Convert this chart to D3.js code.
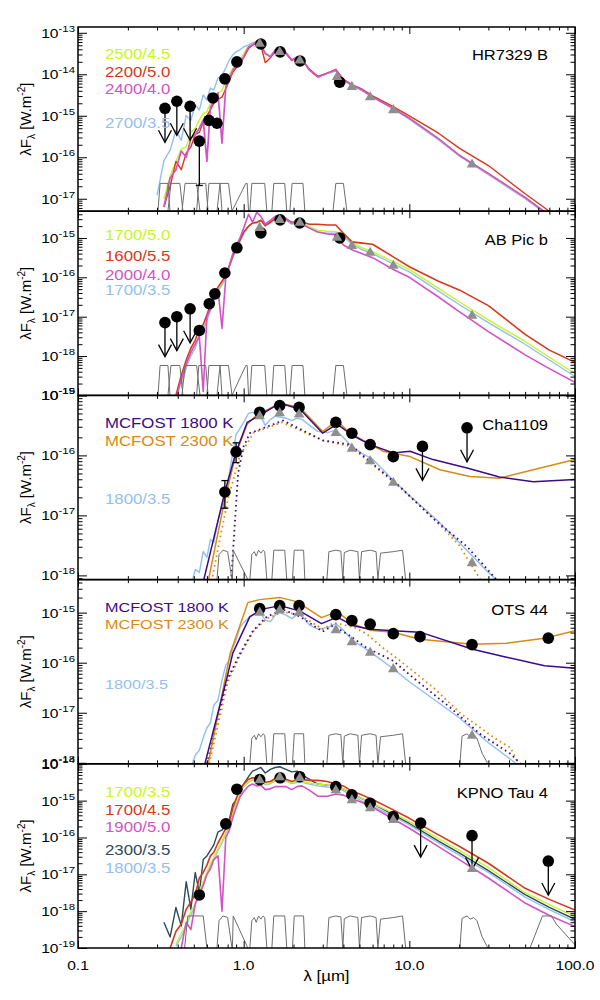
<!DOCTYPE html>
<html>
<head>
<meta charset="utf-8">
<script src="https://cdn.jsdelivr.net/npm/d3@7"></script>
<style>
  body { margin: 0; background: #fff; }
  svg { font-family: "Liberation Sans", Arial, Helvetica, sans-serif; }
</style>
</head>
<body>
<svg id="chart" width="600" height="1000"></svg>
<script>
// ---- data (wavelengths in micron, fluxes as log10 of lambda*F_lambda in W/m2) ----

// common wavelength grid of the atmosphere model spectra
const modelWave = [0.30,0.33,0.36,0.39,0.42,0.45,0.48,0.51,0.54,0.57,
  0.60,0.63,0.66,0.70,0.74,0.78,0.82,0.86,0.90,0.95,
  1.0,1.07,1.13,1.2,1.27,1.35,1.45,1.55,1.65,1.8,
  1.95,2.1,2.25,2.5,2.8,3.2,3.6,4.0,4.5,5.2,
  6,8,10,15,20,30,50,70,100];

// HR7329 B
const hr2700 = [-16.92,-16.08,-15.83,-15.35,-15.59,-14.99,-15.11,-14.74,-14.86,-14.50,
  -14.62,-14.33,-14.38,-14.09,-14.02,-13.85,-13.65,-13.53,-13.46,-13.41,
  -13.34,-13.29,-13.24,-13.22,-13.30,-13.48,-13.56,-13.42,-13.38,-13.48,
  -13.64,-13.60,-13.66,-13.90,-14.06,-13.98,-13.92,-14.14,-14.27,-14.40,
  -14.55,-14.84,-15.08,-15.58,-15.97,-16.42,-17.00,-17.42,-17.88];
const hr2500 = [null,-17.00,-16.45,-16.10,-15.80,-15.75,-15.40,-15.30,-15.10,-14.95,
  -14.90,-14.70,-14.55,-14.45,-14.40,-14.15,-14.00,-13.85,-13.75,-13.65,
  -13.50,-13.33,-13.28,-13.22,-13.28,-13.50,-13.57,-13.42,-13.37,-13.48,
  -13.65,-13.59,-13.65,-13.90,-14.06,-13.97,-13.90,-14.13,-14.26,-14.38,
  -14.54,-14.82,-15.05,-15.56,-15.95,-16.40,-16.98,-17.40,-17.86];
const hr2200 = [null,-17.20,-16.70,-16.10,-16.30,-15.90,-15.75,-15.45,-15.40,-15.15,
  -15.00,-14.85,-14.70,-14.60,-14.55,-14.35,-14.15,-13.95,-13.85,-13.75,
  -13.60,-13.38,-13.30,-13.25,-13.30,-13.72,-13.60,-13.45,-13.40,-13.50,
  -13.67,-13.60,-13.65,-13.88,-14.05,-13.97,-13.88,-14.12,-14.25,-14.36,
  -14.52,-14.78,-15.00,-15.42,-15.78,-16.20,-16.88,-17.30,-17.75];
const hr2400 = [null,-17.20,-16.50,-16.30,-15.85,-16.00,-15.55,-15.45,-15.30,-15.10,
  -16.10,-14.80,-14.65,-14.45,-15.66,-14.30,-14.10,-13.90,-13.78,-13.72,
  -13.58,-13.34,-13.29,-13.20,-13.28,-13.50,-13.58,-13.42,-13.36,-13.48,
  -13.66,-13.58,-13.65,-13.90,-14.07,-13.97,-13.90,-14.14,-14.26,-14.38,
  -14.55,-14.82,-15.06,-15.55,-15.95,-16.39,-16.97,-17.40,-17.85];
const hrPhotWave = [0.335, 0.395, 0.475, 0.54, 0.617, 0.653, 0.69, 0.77, 0.91, 1.27, 1.66, 2.19, 3.8];
const hrPhotLogF = [-14.82, -14.65, -14.77, -15.61, -15.11, -14.57, -15.18, -14.11, -13.70, -13.27, -13.46, -13.68, -14.19];
const hrPhotUpper = [1, 1, 1, 0, 0, 0, 0, 0, 0, 0, 0, 0, 0];
const hrErrLo = [null, null, null, -16.68, null, null, null, null, null, null, null, null, null];
const hrSynthWave = [1.25, 1.65, 2.18, 3.66, 4.5, 5.8, 8.0, 23.9];
const hrSynthLogF = [-13.24, -13.44, -13.64, -14.04, -14.28, -14.53, -14.84, -16.15];

// AB Pic b
const ab2000 = [null,null,null,-19.10,-18.60,-18.20,-17.90,-17.70,-17.50,-18.90,
  -17.00,-16.80,-16.50,-16.30,-17.30,-16.00,-15.70,-15.40,-15.20,-15.00,
  -14.75,-14.40,-14.60,-14.35,-14.45,-14.65,-14.55,-14.45,-14.42,-14.50,
  -14.62,-14.60,-14.65,-14.75,-14.85,-14.90,-14.92,-15.18,-15.30,-15.40,
  -15.50,-15.80,-16.00,-16.50,-16.87,-17.38,-17.97,-18.32,-18.67];
const ab1600 = [null,null,null,-19.00,-18.50,-18.10,-17.80,-17.60,-17.30,-17.20,
  -16.95,-16.70,-16.45,-16.25,-16.10,-15.95,-15.70,-15.45,-15.25,-15.05,
  -14.85,-14.70,-14.62,-14.60,-14.55,-14.68,-14.60,-14.50,-14.48,-14.52,
  -14.60,-14.58,-14.60,-14.65,-14.65,-14.67,-14.67,-14.88,-15.10,-15.13,
  -15.16,-15.48,-15.73,-16.10,-16.32,-16.72,-17.45,-17.85,-18.16];
const ab1700g35 = [null,null,null,null,-18.80,-18.30,-18.00,-17.80,-17.50,-17.35,
  -17.10,-16.85,-16.60,-16.35,-16.20,-16.00,-15.75,-15.50,-15.30,-15.10,
  -14.90,-14.70,-14.62,-14.62,-14.55,-14.70,-14.62,-14.52,-14.50,-14.55,
  -14.65,-14.62,-14.65,-14.75,-14.85,-14.88,-14.88,-14.97,-15.15,-15.30,
  -15.40,-15.66,-15.86,-16.35,-16.69,-17.15,-17.70,-18.10,-18.52];
const ab1700g50 = [null,null,null,null,-18.70,-18.30,-17.95,-17.75,-17.45,-17.30,
  -17.05,-16.80,-16.55,-16.30,-16.15,-15.95,-15.70,-15.45,-15.28,-15.08,
  -14.88,-14.70,-14.63,-14.62,-14.56,-14.70,-14.62,-14.52,-14.50,-14.55,
  -14.63,-14.61,-14.63,-14.72,-14.80,-14.83,-14.84,-14.93,-15.10,-15.25,
  -15.35,-15.60,-15.80,-16.28,-16.62,-17.08,-17.63,-18.03,-18.45];
const abPhotWave = [0.335, 0.395, 0.475, 0.54, 0.62, 0.67, 0.77, 0.91, 1.27, 1.66, 2.18, 3.8];
const abPhotLogF = [-17.15, -17.00, -16.80, -17.35, -16.67, -16.42, -15.89, -15.25, -14.87, -14.54, -14.62, -15.00];
const abPhotUpper = [1, 1, 1, 0, 0, 0, 0, 0, 0, 0, 0, 0];
const abSynthWave = [1.25, 1.65, 2.18, 3.66, 4.5, 5.8, 8.0, 23.9];
const abSynthLogF = [-14.72, -14.52, -14.59, -14.97, -15.18, -15.35, -15.68, -16.95];

// Cha1109
const chaMcf1800Wave = [0.56, 0.77, 0.90, 1.05, 1.20, 1.66, 2.19, 3.0, 3.66, 4.5, 5.8, 8.0, 10.1, 13.9, 22.3, 35, 56, 100];
const chaMcf1800 = [-18.2, -16.61, -15.94, -15.45, -15.36, -15.13, -15.23, -15.63, -15.48, -15.66, -15.82, -15.96, -15.93, -16.07, -16.21, -16.36, -16.44, -16.40];
const chaMcf2300Wave = [0.60, 0.77, 0.90, 1.05, 1.20, 1.66, 2.19, 3.0, 3.66, 4.38, 6.93, 10.1, 15.3, 23.2, 35, 56, 100];
const chaMcf2300 = [-18.2, -16.73, -15.97, -15.48, -15.33, -15.13, -15.20, -15.60, -15.42, -15.63, -15.93, -16.02, -16.24, -16.35, -16.38, -16.24, -16.07];
const chaPhoto1800Wave = [0.84, 0.925, 1.0, 1.09, 1.73, 3.01, 4.38, 8.77, 13.9, 22.3, 33.8];
const chaPhoto1800 = [-18.1, -16.3, -15.85, -15.63, -15.42, -15.75, -15.82, -16.52, -17.05, -17.52, -18.08];
const chaPhoto2300Wave = [0.64, 0.8, 0.95, 1.15, 1.7, 3.0, 4.4, 8.5, 14, 20, 27];
const chaPhoto2300 = [-18.1, -16.75, -16.0, -15.62, -15.45, -15.75, -15.85, -16.5, -17.05, -17.5, -18.08];
const cha1800g35 = [null,null,null,null,null,null,-18.20,-17.90,-17.95,-17.60,
  -17.70,-17.40,-17.45,-17.10,-16.85,-16.60,-16.30,-15.95,-15.65,-15.55,
  -15.45,-15.30,-15.28,-15.33,-15.35,-15.50,-15.40,-15.35,-15.36,-15.38,
  -15.42,-15.38,-15.40,-15.50,-15.60,-15.62,-15.58,-15.70,-15.85,-15.97,
  -16.06,-16.42,-16.67,-17.10,-17.45,-17.95,-18.50,-18.80,-19.20];
const chaPhotWave = [0.77, 0.90, 1.25, 1.65, 2.16, 3.6, 4.5, 5.8, 8.0, 12.0, 22.3];
const chaPhotLogF = [-16.61, -15.94, -15.28, -15.17, -15.20, -15.45, -15.63, -15.82, -16.02, -15.85, -15.54];
const chaPhotUpper = [0, 0, 0, 0, 0, 0, 0, 0, 0, 1, 1];
const chaErrLo = [-16.88, -16.12, null, null, null, null, null, null, null, null, null];
const chaErrHi = [-16.42, -15.79, null, null, null, null, null, null, null, null, null];
const chaSynthWave = [1.25, 1.65, 2.16, 3.6, 4.5, 5.8, 8.0, 23.9];
const chaSynthLogF = [-15.33, -15.28, -15.30, -15.61, -15.87, -16.08, -16.44, -17.78];

// OTS 44
const otsMcf1800Wave = [0.57, 0.79, 0.86, 1.09, 1.30, 1.66, 2.19, 2.95, 3.66, 4.6, 5.78, 7.96, 11.6, 24.1, 38.6, 65.5, 100];
const otsMcf1800 = [-18.15, -16.32, -15.81, -15.08, -14.93, -14.86, -14.97, -15.22, -15.09, -15.26, -15.33, -15.36, -15.39, -15.73, -15.89, -16.06, -16.11];
const otsMcf2300Wave = [0.60, 0.83, 1.06, 1.25, 1.66, 2.09, 2.95, 3.66, 4.6, 5.78, 7.96, 11.6, 24.1, 38.6, 65.5, 100];
const otsMcf2300 = [-18.15, -15.81, -14.80, -14.74, -14.70, -14.78, -15.10, -14.98, -15.23, -15.35, -15.39, -15.53, -15.63, -15.61, -15.51, -15.36];
const otsPhoto1800Wave = [0.60, 0.79, 0.95, 1.14, 1.38, 1.73, 2.19, 3.0, 3.45, 4.38, 5.5, 7.96, 11.1, 17.7, 26.6, 40.8, 48];
const otsPhoto1800 = [-18.02, -16.36, -15.82, -15.36, -15.08, -14.94, -15.08, -15.38, -15.26, -15.46, -15.70, -15.96, -16.36, -16.90, -17.42, -17.82, -18.05];
const otsPhoto2300Wave = [0.62, 0.8, 0.95, 1.14, 1.38, 1.73, 2.19, 3.0, 3.5, 4.6, 5.5, 6.9, 8.8, 14, 20.5, 32.5, 40.8, 46];
const otsPhoto2300 = [-18.02, -16.4, -15.85, -15.38, -15.12, -14.98, -15.05, -15.33, -15.2, -15.29, -15.42, -15.7, -15.96, -16.5, -17.02, -17.5, -17.7, -18.05];
const ots1800g35 = [null,null,null,null,null,null,-18.10,-17.85,-17.75,-17.50,
  -17.30,-17.20,-16.85,-16.75,-16.35,-16.05,-15.95,-15.70,-15.55,-15.30,
  -15.20,-15.10,-15.05,-15.00,-15.02,-15.15,-15.18,-15.05,-15.00,-15.05,
  -15.12,-15.04,-15.06,-15.25,-15.33,-15.30,-15.22,-15.35,-15.55,-15.68,
  -15.82,-16.12,-16.38,-16.80,-17.10,-17.60,-18.15,-18.50,-18.90];
const otsPhotWave = [1.25, 1.65, 2.16, 3.6, 4.5, 5.8, 8.0, 11.6, 23.9, 69];
const otsPhotLogF = [-14.92, -14.86, -14.86, -15.04, -15.16, -15.23, -15.42, -15.48, -15.64, -15.51];
const otsSynthWave = [1.25, 1.65, 2.16, 3.6, 4.5, 5.8, 8.0, 23.9];
const otsSynthLogF = [-14.98, -14.93, -14.98, -15.33, -15.57, -15.78, -16.11, -17.44];

// KPNO Tau 4
const kp2300 = [null,-18.30,-18.70,-17.90,-18.40,-17.20,-17.95,-16.95,-17.50,-16.60,
  -16.50,-16.35,-16.20,-15.85,-15.80,-15.60,-15.50,-15.10,-15.00,-14.80,
  -14.55,-14.35,-14.20,-14.15,-14.10,-14.25,-14.15,-14.10,-14.08,-14.15,
  -14.22,-14.20,-14.30,-14.42,-14.55,-14.58,-14.60,-14.68,-14.80,-14.95,
  -15.08,-15.38,-15.62,-16.10,-16.42,-16.90,-17.55,-17.90,-18.22];
const kp1800 = [null,null,null,-18.95,-18.70,-18.40,-18.10,-17.85,-17.50,-17.25,
  -17.00,-16.75,-16.60,-16.35,-16.15,-15.90,-15.70,-15.35,-15.10,-14.80,
  -14.62,-14.50,-14.45,-14.47,-14.44,-14.57,-14.54,-14.47,-14.44,-14.47,
  -14.54,-14.50,-14.50,-14.55,-14.60,-14.63,-14.65,-14.73,-14.86,-15.02,
  -15.15,-15.43,-15.66,-16.15,-16.48,-16.95,-17.62,-17.96,-18.29];
const kp1700g35 = [null,null,null,-18.90,-18.60,-18.35,-18.00,-17.80,-17.45,-17.20,
  -16.95,-16.70,-16.55,-16.30,-16.10,-15.85,-15.65,-15.30,-15.05,-14.75,
  -14.60,-14.48,-14.43,-14.45,-14.42,-14.55,-14.52,-14.45,-14.42,-14.45,
  -14.52,-14.47,-14.48,-14.52,-14.55,-14.58,-14.60,-14.68,-14.80,-14.95,
  -15.08,-15.34,-15.57,-16.03,-16.35,-16.82,-17.50,-17.82,-18.15];
const kp1700g45 = [null,null,-19.00,-18.55,-18.35,-17.95,-17.75,-17.55,-17.10,-16.95,
  -16.75,-16.50,-16.40,-16.15,-15.95,-15.75,-15.55,-15.20,-14.95,-14.70,
  -14.55,-14.42,-14.38,-14.40,-14.38,-14.50,-14.48,-14.40,-14.38,-14.42,
  -14.48,-14.43,-14.43,-14.45,-14.45,-14.48,-14.55,-14.60,-14.74,-14.85,
  -14.97,-15.25,-15.48,-15.93,-16.24,-16.70,-17.38,-17.68,-17.97];
const kp1900 = [null,null,null,null,-19.00,-18.30,-18.50,-17.80,-17.55,-17.30,
  -17.00,-16.85,-16.60,-16.50,-18.00,-16.00,-15.80,-15.45,-15.20,-14.90,
  -14.75,-14.60,-14.55,-14.60,-14.58,-14.70,-14.68,-14.62,-14.62,-14.62,
  -14.70,-14.62,-14.60,-14.72,-14.88,-14.88,-14.82,-14.85,-14.95,-15.05,
  -15.18,-15.50,-15.75,-16.25,-16.60,-17.10,-17.78,-18.12,-18.42];
const kpPhotWave = [0.54, 0.78, 0.91, 1.25, 1.66, 2.18, 3.6, 4.5, 5.8, 8.0, 11.7, 23.9, 69];
const kpPhotLogF = [-17.56, -15.63, -14.69, -14.43, -14.38, -14.35, -14.62, -14.84, -15.07, -15.43, -15.61, -15.95, -16.64];
const kpPhotUpper = [0, 0, 0, 0, 0, 0, 0, 0, 0, 0, 1, 1, 1];
const kpSynthWave = [1.25, 1.65, 2.18, 3.6, 4.5, 5.8, 8.0, 23.9];
const kpSynthLogF = [-14.42, -14.34, -14.36, -14.69, -14.96, -15.18, -15.50, -16.83];

// filter transmission curves: [wavelength, relative transmission]
const fltF336 = [[0.304,0],[0.313,1],[0.349,1],[0.359,0]];
const fltF390 = [[0.349,0],[0.364,1],[0.412,1],[0.43,0]];
const fltF475 = [[0.424,0],[0.443,1],[0.52,1],[0.545,0]];
const fltF555 = [[0.52,0],[0.536,1],[0.59,1],[0.61,0]];
const fltF658 = [[0.60,0],[0.617,1],[0.72,1],[0.74,0]];
const fltF775 = [[0.69,0],[0.72,1],[0.81,1],[0.85,0]];
const fltF850 = [[0.85,0],[1.03,1],[1.05,1],[1.07,0]];
const fltV = [[0.44,0],[0.46,1],[0.57,1],[0.60,0]];
const fltI = [[0.69,0],[0.71,0.85],[0.75,1],[0.8,0.95],[0.85,0]];
const fltZ = [[0.855,0],[0.865,1],[1.06,0]];
const fltJ = [[1.09,0],[1.12,1],[1.34,1],[1.38,0]];
const fltJn = [[1.09,0],[1.12,0.85],[1.16,0.95],[1.19,0.8],[1.23,1],[1.27,0.9],[1.31,1],[1.34,0.95],[1.38,0]];
const fltH = [[1.48,0],[1.52,1],[1.77,1],[1.82,0]];
const fltK = [[1.9,0],[1.96,1],[2.28,1],[2.34,0]];
const fltKs = [[1.97,0],[2.02,1],[2.3,1],[2.34,0]];
const fltLp = [[3.46,0],[3.6,1],[4.0,1],[4.2,0]];
const fltI1 = [[3.18,0],[3.27,0.95],[3.6,1],[3.86,0.97],[3.97,0]];
const fltI2 = [[3.97,0],[4.05,0.92],[4.4,1],[4.89,0.95],[5.0,0]];
const fltI3 = [[5.0,0],[5.15,0.95],[5.8,1],[6.3,0.95],[6.46,0]];
const fltI4 = [[6.46,0],[6.7,0.9],[8.0,0.95],[9.1,1],[9.5,0]];
const fltM24 = [[20.2,0],[20.8,0.92],[22.3,1],[23.3,0.9],[24.5,0.95],[25.6,0.85],[27.5,0.35],[29.8,0]];
const fltM70 = [[53.5,0],[63.6,1],[72,1],[77,0.75],[100,0.1],[120,0]];

const xTickLabels = ["0.1", "1.0", "10.0", "100.0"];

// ---- layout & style ----
const C = {
  lime: "#c8f526", red: "#d8381a", magenta: "#d452c8", blue: "#92bff0",
  slate: "#2b4a5a", indigo: "#3c0a8a", orange: "#d98a10",
  grey: "#8f8f8f", filter: "#6e6e6e"
};
const left = 78, right = 575, top0 = 27, panelH = 184.2;

const spec = (logF, color, width) => ({ wave: modelWave, logF, color, width: width || 1.4 });

const panels = [
  { name: "HR7329 B", range: [-17.3, -12.86], filterPeak: -16.63,
    filters: [fltF336, fltF390, fltF475, fltF555, fltF658, fltF775, fltF850, fltJ, fltH, fltK, fltLp],
    models: [spec(hr2700, C.blue), spec(hr2500, C.lime), spec(hr2200, C.red), spec(hr2400, C.magenta, 1.7)],
    legend: [["2500/4.5", C.lime, 54], ["2200/5.0", C.red, 72], ["2400/4.0", C.magenta, 89], ["2700/3.5", C.blue, 123]],
    legendSize: 14, nameY: 54,
    phot: { wave: hrPhotWave, logF: hrPhotLogF, upper: hrPhotUpper, errLo: hrErrLo },
    synth: { wave: hrSynthWave, logF: hrSynthLogF } },
  { name: "AB Pic b", range: [-19, -14.32], filterPeak: -18.24,
    filters: [fltF336, fltF390, fltF475, fltF555, fltF658, fltF775, fltF850, fltJ, fltH, fltK, fltLp],
    models: [spec(ab1700g50, C.lime), spec(ab1700g35, C.blue), spec(ab1600, C.red, 1.6), spec(ab2000, C.magenta, 1.6)],
    legend: [["1700/5.0", C.lime, 235], ["1600/5.5", C.red, 256], ["2000/4.0", C.magenta, 275], ["1700/3.5", C.blue, 290]],
    legendSize: 14, nameY: 239,
    phot: { wave: abPhotWave, logF: abPhotLogF, upper: abPhotUpper },
    synth: { wave: abSynthWave, logF: abSynthLogF } },
  { name: "Cha1109", range: [-18.07, -15], filterPeak: -17.58,
    filters: [fltI, fltZ, fltJn, fltH, fltKs, fltI1, fltI2, fltI3, fltI4],
    models: [spec(cha1800g35, C.blue),
      { wave: chaPhoto2300Wave, logF: chaPhoto2300, color: C.orange, dotted: true },
      { wave: chaPhoto1800Wave, logF: chaPhoto1800, color: C.indigo, dotted: true },
      { wave: chaMcf2300Wave, logF: chaMcf2300, color: C.orange, width: 1.5 },
      { wave: chaMcf1800Wave, logF: chaMcf1800, color: C.indigo, width: 1.5 }],
    legend: [["MCFOST 1800 K", C.indigo, 423], ["MCFOST 2300 K", C.orange, 441], ["1800/3.5", C.blue, 499]],
    legendSize: 14, nameY: 424,
    phot: { wave: chaPhotWave, logF: chaPhotLogF, upper: chaPhotUpper, errLo: chaErrLo, errHi: chaErrHi },
    synth: { wave: chaSynthWave, logF: chaSynthLogF } },
  { name: "OTS 44", range: [-18.02, -14.34], filterPeak: -17.42,
    filters: [fltJn, fltH, fltKs, fltI1, fltI2, fltI3, fltI4, fltM24],
    models: [spec(ots1800g35, C.blue),
      { wave: otsPhoto2300Wave, logF: otsPhoto2300, color: C.orange, dotted: true },
      { wave: otsPhoto1800Wave, logF: otsPhoto1800, color: C.indigo, dotted: true },
      { wave: otsMcf2300Wave, logF: otsMcf2300, color: C.orange, width: 1.5 },
      { wave: otsMcf1800Wave, logF: otsMcf1800, color: C.indigo, width: 1.5 }],
    legend: [["MCFOST 1800 K", C.indigo, 607], ["MCFOST 2300 K", C.orange, 624], ["1800/3.5", C.blue, 684]],
    legendSize: 13.5, nameY: 609,
    phot: { wave: otsPhotWave, logF: otsPhotLogF },
    synth: { wave: otsSynthWave, logF: otsSynthLogF } },
  { name: "KPNO Tau 4", range: [-19, -14], filterPeak: -18.13,
    filters: [fltV, fltI, fltZ, fltJn, fltH, fltKs, fltI1, fltI2, fltI3, fltI4, fltM24, fltM70],
    models: [spec(kp2300, C.slate), spec(kp1800, C.blue), spec(kp1700g35, C.lime), spec(kp1700g45, C.red, 1.6), spec(kp1900, C.magenta, 1.6)],
    legend: [["1700/3.5", C.lime, 792], ["1700/4.5", C.red, 810], ["1900/5.0", C.magenta, 827], ["2300/3.5", C.slate, 850], ["1800/3.5", C.blue, 868]],
    legendSize: 14, nameY: 792,
    phot: { wave: kpPhotWave, logF: kpPhotLogF, upper: kpPhotUpper },
    synth: { wave: kpSynthWave, logF: kpSynthLogF } }
];

// ---- drawing ----
const svg = d3.select("#chart");
const defs = svg.append("defs");
const x = d3.scaleLog().domain([0.1, 100]).range([left, right]);

const xMajor = [0.1, 1, 10, 100];
const xMinor = [];
[-1, 0, 1].forEach(e => d3.range(2, 10).forEach(k => xMinor.push(k * 10 ** e)));

function cleanAxis(sel) {
  sel.select(".domain").remove();
  sel.selectAll(".tick line").attr("stroke", "#000").attr("stroke-width", 1);
}

panels.forEach((p, i) => {
  const top = top0 + i * panelH, bottom = top + panelH;
  const y = d3.scaleLog().domain([10 ** p.range[0], 10 ** p.range[1]]).range([bottom, top]);
  const ly = v => y(10 ** v);
  const g = svg.append("g");

  defs.append("clipPath").attr("id", "clip" + i).append("rect")
    .attr("x", left).attr("y", top).attr("width", right - left).attr("height", panelH);
  const plot = g.append("g").attr("clip-path", `url(#clip${i})`);

  // model spectra
  const line = d3.line().defined(d => d[1] != null).x(d => x(d[0])).y(d => ly(d[1]));
  p.models.forEach(m => {
    plot.append("path")
      .datum(m.wave.map((w, k) => [w, m.logF[k]]))
      .attr("d", line)
      .attr("fill", "none")
      .attr("stroke", m.color)
      .attr("stroke-width", m.dotted ? 1.8 : (m.width || 1.4))
      .attr("stroke-dasharray", m.dotted ? "1.6,3.4" : null)
      .attr("stroke-linejoin", "round");
  });

  // filter curves, scaled between the panel floor and filterPeak
  const filterLine = d3.line()
    .x(d => x(d[0]))
    .y(d => ly(p.range[0] + d[1] * (p.filterPeak - p.range[0])));
  p.filters.forEach(f => {
    plot.append("path").attr("d", filterLine(f))
      .attr("fill", "none").attr("stroke", C.filter).attr("stroke-width", 1);
  });

  // photometry
  const ph = p.phot;
  const pts = ph.wave.map((w, k) => ({
    cx: x(w), cy: ly(ph.logF[k]),
    upper: ph.upper ? ph.upper[k] : 0,
    lo: ph.errLo ? ph.errLo[k] : null,
    hi: ph.errHi ? ph.errHi[k] : null
  }));
  const marks = g.append("g").attr("stroke", "#000").attr("stroke-width", 1.3).attr("fill", "none");
  pts.filter(d => d.lo != null).forEach(d => {
    const yLo = ly(d.lo), yHi = d.hi != null ? ly(d.hi) : d.cy;
    marks.append("line").attr("x1", d.cx).attr("x2", d.cx).attr("y1", yHi).attr("y2", yLo);
    marks.append("line").attr("x1", d.cx - 3.5).attr("x2", d.cx + 3.5).attr("y1", yLo).attr("y2", yLo);
    if (d.hi != null) marks.append("line").attr("x1", d.cx - 3.5).attr("x2", d.cx + 3.5).attr("y1", yHi).attr("y2", yHi);
  });
  pts.filter(d => d.upper).forEach(d => {
    marks.append("line").attr("x1", d.cx).attr("x2", d.cx).attr("y1", d.cy).attr("y2", d.cy + 34);
    marks.append("path").attr("d", `M${d.cx - 6.5},${d.cy + 22}L${d.cx},${d.cy + 34}L${d.cx + 6.5},${d.cy + 22}`);
  });
  g.append("g").selectAll("circle").data(pts).join("circle")
    .attr("cx", d => d.cx).attr("cy", d => d.cy).attr("r", 5.8).attr("fill", "#000");

  const tri = d3.symbol().type(d3.symbolTriangle).size(48);
  g.append("g").selectAll("path").data(p.synth.wave.map((w, k) => [w, p.synth.logF[k]])).join("path")
    .attr("d", tri)
    .attr("transform", d => `translate(${x(d[0])},${ly(d[1]) + 1})`)
    .attr("fill", C.grey);

  // axes
  const lo = p.range[0], hi = p.range[1];
  const majorExp = d3.range(Math.ceil(lo - 0.03), Math.floor(hi + 0.03) + 1);
  const yMajor = majorExp.map(e => 10 ** e);
  const yMinor = [];
  for (let e = Math.floor(lo); e < Math.ceil(hi); e++) {
    d3.range(2, 10).forEach(k => {
      const v = Math.log10(k) + e;
      if (v > lo && v < hi) yMinor.push(k * 10 ** e);
    });
  }
  const axes = g.append("g");
  axes.append("g").attr("transform", `translate(${left},0)`)
    .call(d3.axisLeft(y).tickValues(yMajor).tickSize(-9).tickFormat("")).call(cleanAxis);
  axes.append("g").attr("transform", `translate(${left},0)`)
    .call(d3.axisLeft(y).tickValues(yMinor).tickSize(-4.5).tickFormat("")).call(cleanAxis);
  axes.append("g").attr("transform", `translate(${right},0)`)
    .call(d3.axisRight(y).tickValues(yMajor).tickSize(-9).tickFormat("")).call(cleanAxis);
  axes.append("g").attr("transform", `translate(${right},0)`)
    .call(d3.axisRight(y).tickValues(yMinor).tickSize(-4.5).tickFormat("")).call(cleanAxis);
  axes.append("g").attr("transform", `translate(0,${bottom})`)
    .call(d3.axisBottom(x).tickValues(xMajor).tickSize(-7).tickFormat("")).call(cleanAxis);
  axes.append("g").attr("transform", `translate(0,${bottom})`)
    .call(d3.axisBottom(x).tickValues(xMinor).tickSize(-3.5).tickFormat("")).call(cleanAxis);
  axes.append("g").attr("transform", `translate(0,${top})`)
    .call(d3.axisTop(x).tickValues(xMajor).tickSize(-7).tickFormat("")).call(cleanAxis);
  axes.append("g").attr("transform", `translate(0,${top})`)
    .call(d3.axisTop(x).tickValues(xMinor).tickSize(-3.5).tickFormat("")).call(cleanAxis);

  g.append("rect").attr("x", left).attr("y", top).attr("width", right - left).attr("height", panelH)
    .attr("fill", "none").attr("stroke", "#000").attr("stroke-width", 1.5);

  // y tick labels 10^n
  majorExp.forEach(e => {
    const t = axes.append("text")
      .attr("transform", `translate(75,${ly(e) + 5}) scale(1.2,1)`)
      .attr("text-anchor", "end").attr("font-size", 13);
    t.append("tspan").text("10");
    t.append("tspan").attr("dy", -6).attr("font-size", 9.5).text(e);
  });

  // y title
  const yt = g.append("text")
    .attr("transform", `translate(31,${(top + bottom) / 2}) rotate(-90)`)
    .attr("text-anchor", "middle").attr("font-size", 15);
  yt.append("tspan").text("λF");
  yt.append("tspan").attr("dy", 4).attr("font-size", 10).text("λ");
  yt.append("tspan").attr("dy", -4).text(" [W.m");
  yt.append("tspan").attr("dy", -6).attr("font-size", 10).text("-2");
  yt.append("tspan").attr("dy", 6).text("]");

  // legend & object name
  p.legend.forEach(([txt, col, cy]) => {
    g.append("text").attr("transform", `translate(105,${cy + 5}) scale(1.2,1)`)
      .attr("font-size", p.legendSize).attr("fill", col).text(txt);
  });
  g.append("text").attr("transform", `translate(548,${p.nameY + 5.5}) scale(1.1,1)`)
    .attr("text-anchor", "end").attr("font-size", 15).attr("fill", "#000").text(p.name);
});

// x tick labels & title
const lastBottom = top0 + panels.length * panelH;
xMajor.forEach((v, k) => {
  svg.append("text").attr("transform", `translate(${x(v)},${lastBottom + 22}) scale(1.2,1)`)
    .attr("text-anchor", "middle").attr("font-size", 13).text(xTickLabels[k]);
});
svg.append("text").attr("transform", `translate(${(left + right) / 2},${lastBottom + 33}) scale(1.2,1)`)
  .attr("text-anchor", "middle").attr("font-size", 14).text("λ [µm]");
</script>
</body>
</html>
